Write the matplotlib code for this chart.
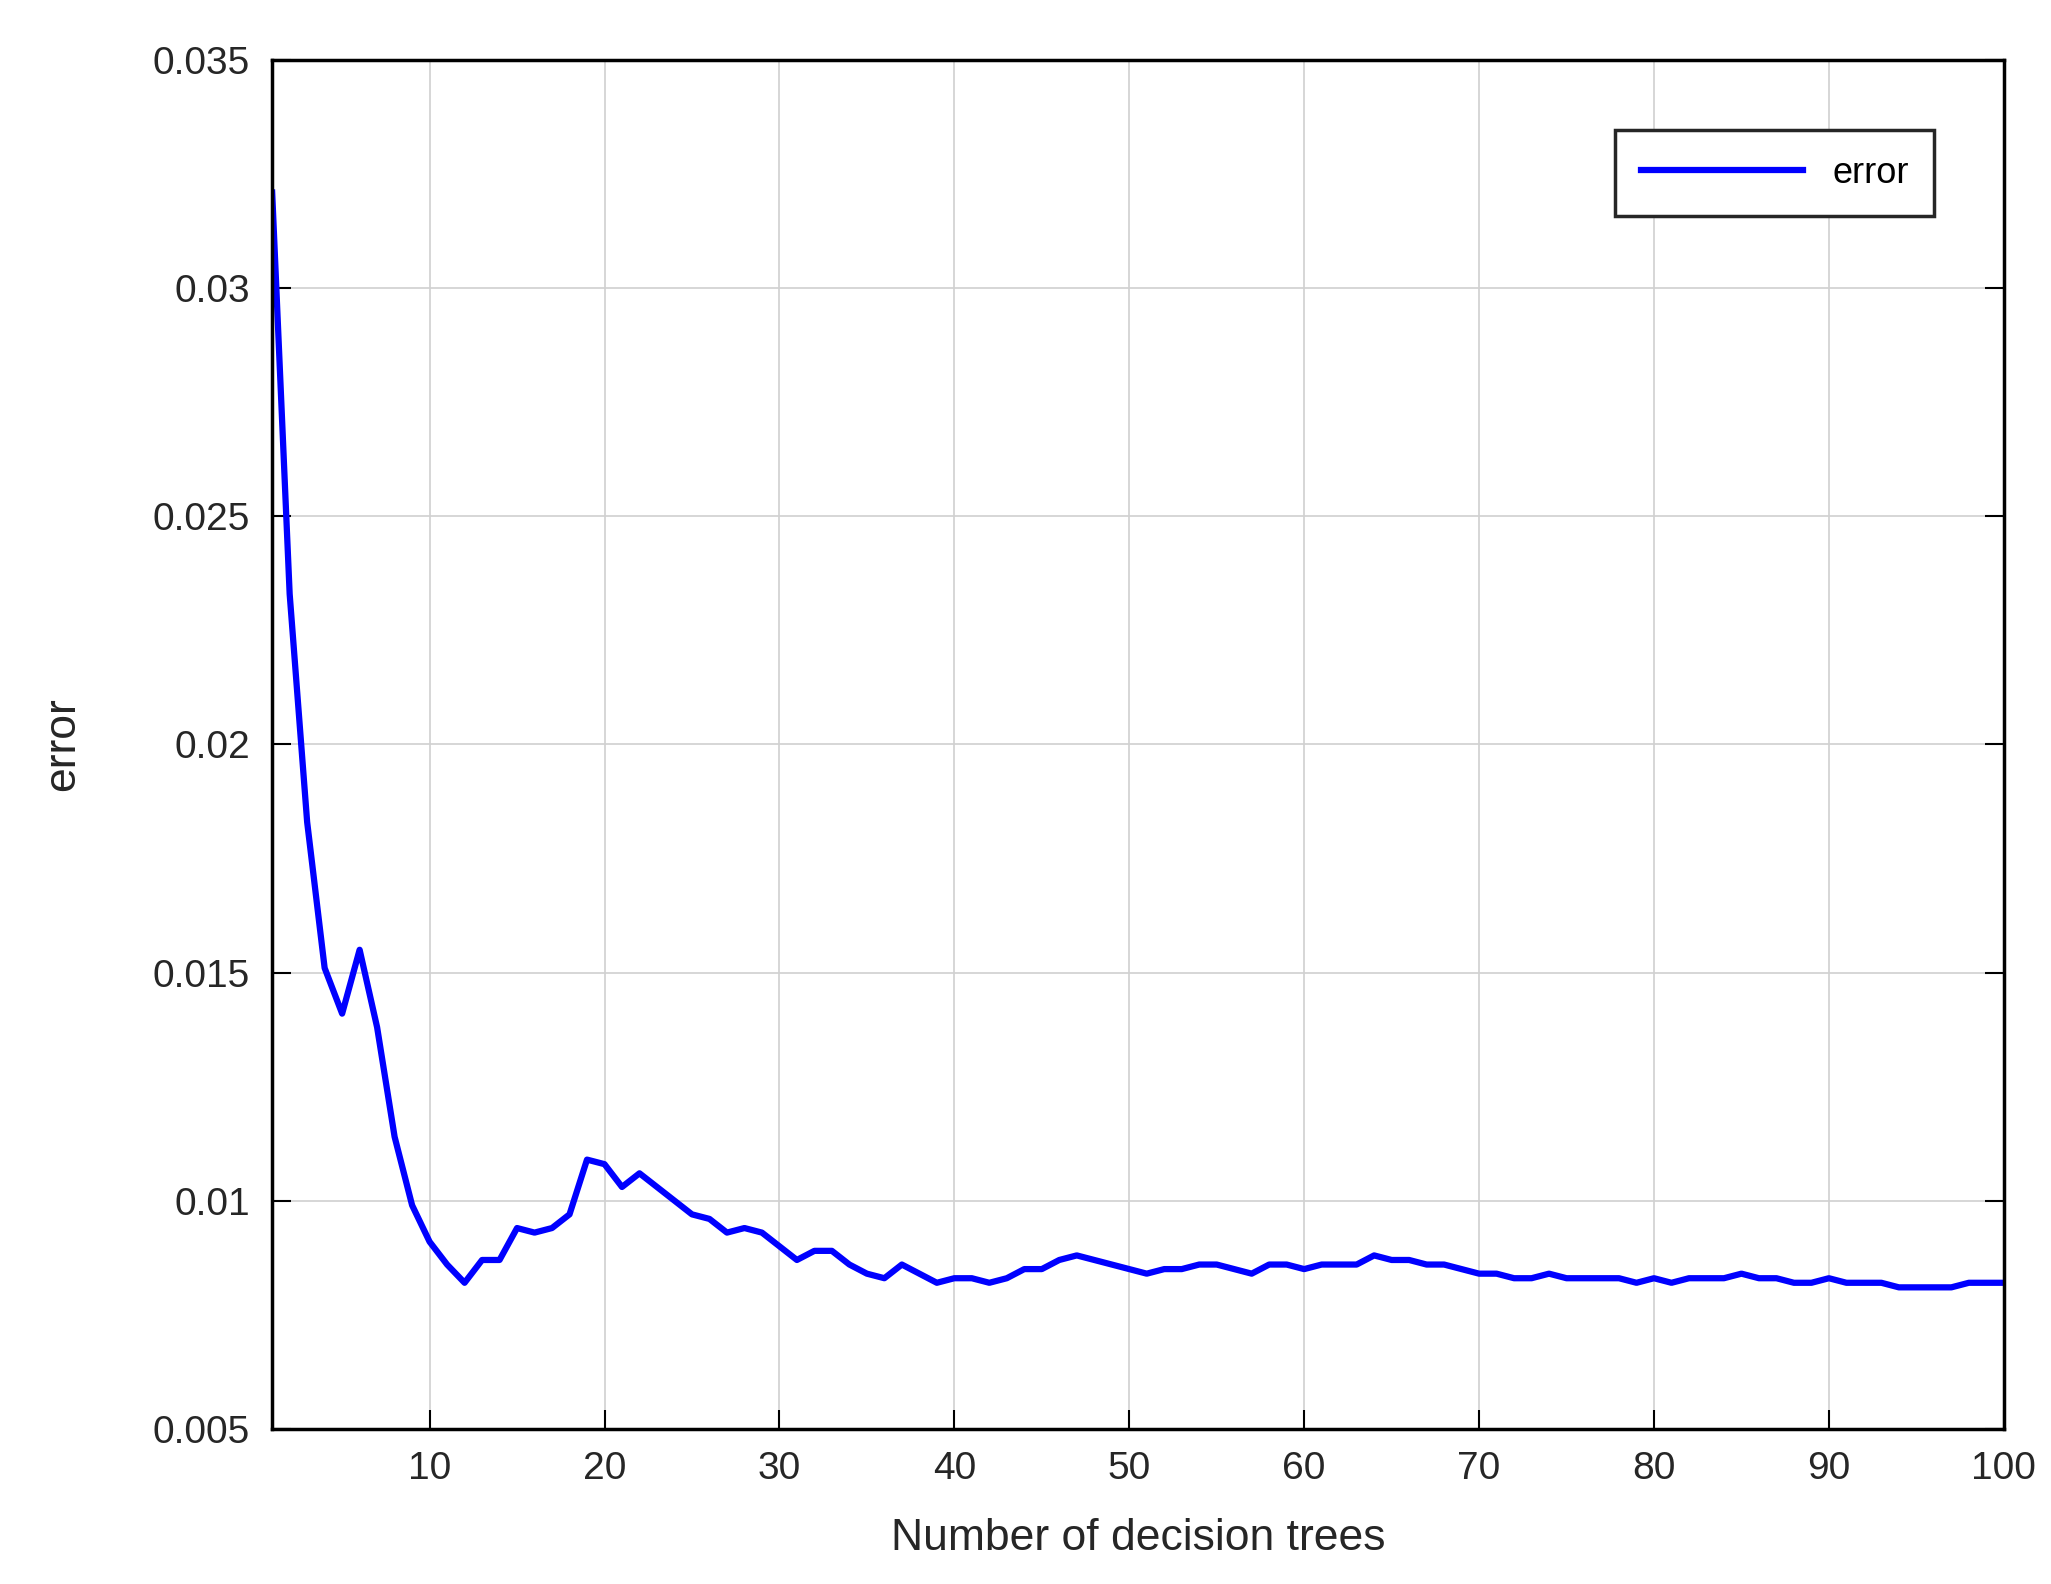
import matplotlib
matplotlib.use("Agg")
import matplotlib.pyplot as plt
import numpy as np

plt.rcParams['font.family'] = ['Liberation Sans', 'DejaVu Sans']

trees = list(range(1, 101))
error = [0.0321, 0.0233, 0.0183, 0.0151, 0.0141, 0.0155, 0.0138, 0.0114, 0.0099, 0.0091,
         0.0086, 0.0082, 0.0087, 0.0087, 0.0094, 0.0093, 0.0094, 0.0097, 0.0109, 0.0108,
         0.0103, 0.0106, 0.0103, 0.0100, 0.0097, 0.0096, 0.0093, 0.0094, 0.0093, 0.0090,
         0.0087, 0.0089, 0.0089, 0.0086, 0.0084, 0.0083, 0.0086, 0.0084, 0.0082, 0.0083,
         0.0083, 0.0082, 0.0083, 0.0085, 0.0085, 0.0087, 0.0088, 0.0087, 0.0086, 0.0085,
         0.0084, 0.0085, 0.0085, 0.0086, 0.0086, 0.0085, 0.0084, 0.0086, 0.0086, 0.0085,
         0.0086, 0.0086, 0.0086, 0.0088, 0.0087, 0.0087, 0.0086, 0.0086, 0.0085, 0.0084,
         0.0084, 0.0083, 0.0083, 0.0084, 0.0083, 0.0083, 0.0083, 0.0083, 0.0082, 0.0083,
         0.0082, 0.0083, 0.0083, 0.0083, 0.0084, 0.0083, 0.0083, 0.0082, 0.0082, 0.0083,
         0.0082, 0.0082, 0.0082, 0.0081, 0.0081, 0.0081, 0.0081, 0.0082, 0.0082, 0.0082]

fig = plt.figure(figsize=(20.51, 15.84), dpi=100)
ax = fig.add_axes([0.1327, 0.098, 0.8443, 0.864])
ax.plot(trees, error, color='#0000ff', lw=4.5, label='error')
ax.set_xlim(1, 100)
ax.set_ylim(0.005, 0.035)
ax.set_xticks(range(10, 101, 10))
ax.set_yticks([0.005, 0.01, 0.015, 0.02, 0.025, 0.03, 0.035])
ax.set_yticklabels(['0.005', '0.01', '0.015', '0.02', '0.025', '0.03', '0.035'])
ax.grid(True, color='#d0d0d0', lw=1.2)
ax.tick_params(direction='in', length=14, width=1.5, labelsize=28, right=True, top=False,
               pad=16, labelcolor='#262626')
for s in ax.spines.values():
    s.set_linewidth(2.5)
ax.set_xlabel('Number of decision trees', fontsize=32, labelpad=22, color='#262626')
ax.set_ylabel('error', fontsize=32, labelpad=50, color='#262626')
leg = ax.legend(loc='upper right', fontsize=26, fancybox=False, framealpha=1,
                edgecolor='#262626', borderpad=0.7, handlelength=4.5, bbox_to_anchor=(0.97, 0.962))
leg.get_frame().set_linewidth(2.5)
fig.savefig('out.png', dpi=100)
